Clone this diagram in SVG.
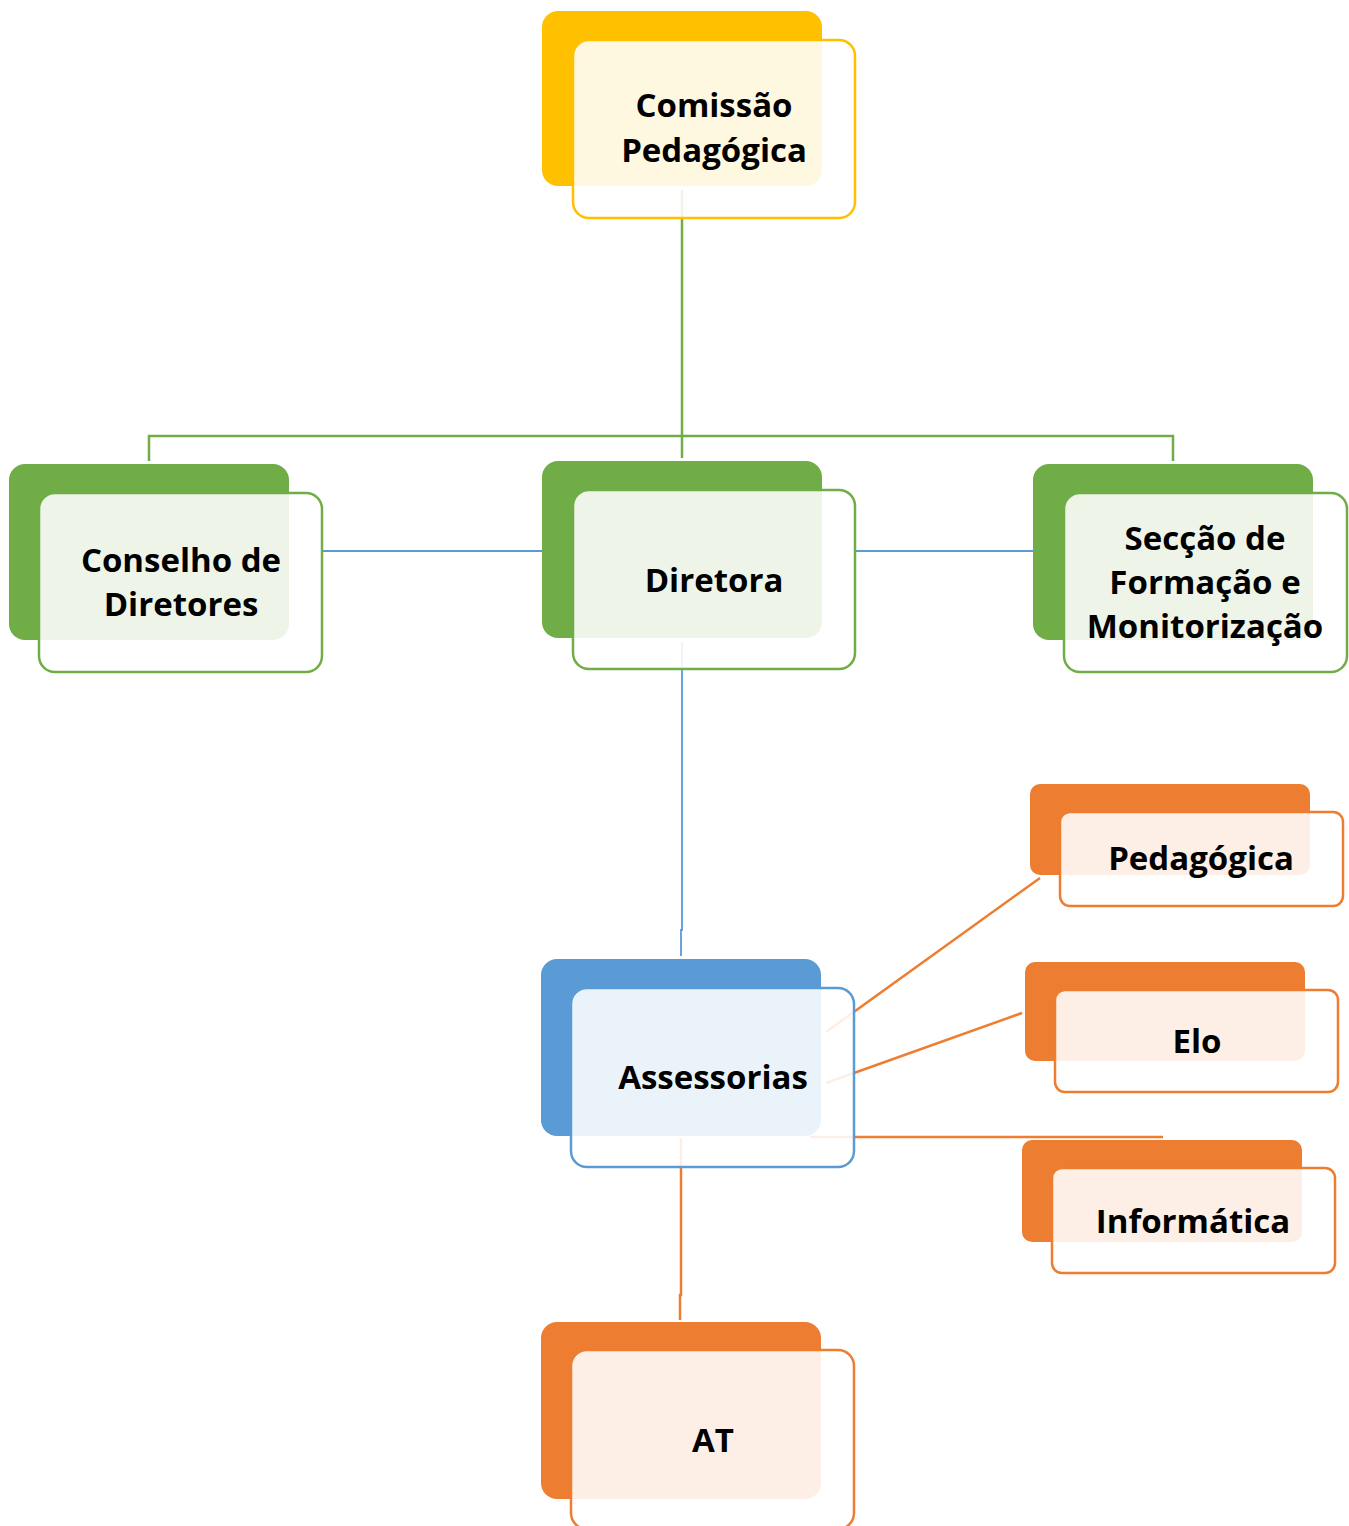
<svg xmlns="http://www.w3.org/2000/svg" width="1349" height="1526" viewBox="0 0 1349 1526">
<style>
text{font-family:"Open Sans","Liberation Sans",sans-serif;font-weight:700;font-size:33px;fill:#000;text-anchor:middle}
.front{fill:#fff;fill-opacity:0.88;stroke-width:2.5}
.y .back{fill:#FFC000}.y .front{stroke:#FFC000}
.g .back{fill:#70AD47}.g .front{stroke:#70AD47}
.b .back{fill:#5B9BD5}.b .front{stroke:#5B9BD5}
.o .back{fill:#ED7D31}.o .front{stroke:#ED7D31}
.cg{stroke:#70AD47;stroke-width:2.5;fill:none}
.cb{stroke:#5B9BD5;stroke-width:1.8;fill:none}
.co{stroke:#ED7D31;stroke-width:2.5;fill:none}
</style>
<rect width="1349" height="1526" fill="#fff"/>
<g id="connectors">
<path class="cg" d="M682 190 V458 M149 461 V436 H1173 V461"/>
<path class="cb" d="M322 551 H542 M855 551 H1033 M682 642 V930 H681 V956"/>
<path class="co" d="M826 1032 L1040 878 M826 1083 L1022 1013 M810 1137 H1163 M681 1138 V1295 H680 V1320"/>
</g>
<g id="comissao" class="y">
<rect class="back" x="542" y="11" width="280" height="175" rx="16"/>
<rect class="front" x="573" y="40" width="282" height="178" rx="16"/>
<text x="714" y="117">Comissão</text>
<text x="714" y="162">Pedagógica</text>
</g>
<g id="conselho" class="g">
<rect class="back" x="9" y="464" width="280" height="176" rx="16"/>
<rect class="front" x="39" y="493" width="283" height="179" rx="16"/>
<text x="181" y="572">Conselho de</text>
<text x="181" y="616">Diretores</text>
</g>
<g id="diretora" class="g">
<rect class="back" x="542" y="461" width="280" height="177" rx="16"/>
<rect class="front" x="573" y="490" width="282" height="179" rx="16"/>
<text x="714" y="592">Diretora</text>
</g>
<g id="seccao" class="g">
<rect class="back" x="1033" y="464" width="280" height="176" rx="16"/>
<rect class="front" x="1064" y="493" width="283" height="179" rx="16"/>
<text x="1205" y="550">Secção de</text>
<text x="1205" y="594">Formação e</text>
<text x="1205" y="638">Monitorização</text>
</g>
<g id="pedagogica" class="o">
<rect class="back" x="1030" y="784" width="280" height="91" rx="10"/>
<rect class="front" x="1060" y="812" width="283" height="94" rx="10"/>
<text x="1201" y="870">Pedagógica</text>
</g>
<g id="elo" class="o">
<rect class="back" x="1025" y="962" width="280" height="99" rx="10"/>
<rect class="front" x="1055" y="990" width="283" height="102" rx="10"/>
<text x="1197" y="1053">Elo</text>
</g>
<g id="informatica" class="o">
<rect class="back" x="1022" y="1140" width="280" height="102" rx="10"/>
<rect class="front" x="1052" y="1168" width="283" height="105" rx="10"/>
<text x="1193" y="1233">Informática</text>
</g>
<g id="assessorias" class="b">
<rect class="back" x="541" y="959" width="280" height="177" rx="16"/>
<rect class="front" x="571" y="988" width="283" height="179" rx="16"/>
<text x="713" y="1089">Assessorias</text>
</g>
<g id="at" class="o">
<rect class="back" x="541" y="1322" width="280" height="177" rx="16"/>
<rect class="front" x="571" y="1350" width="283" height="179" rx="16"/>
<text x="713" y="1452">AT</text>
</g>
</svg>
